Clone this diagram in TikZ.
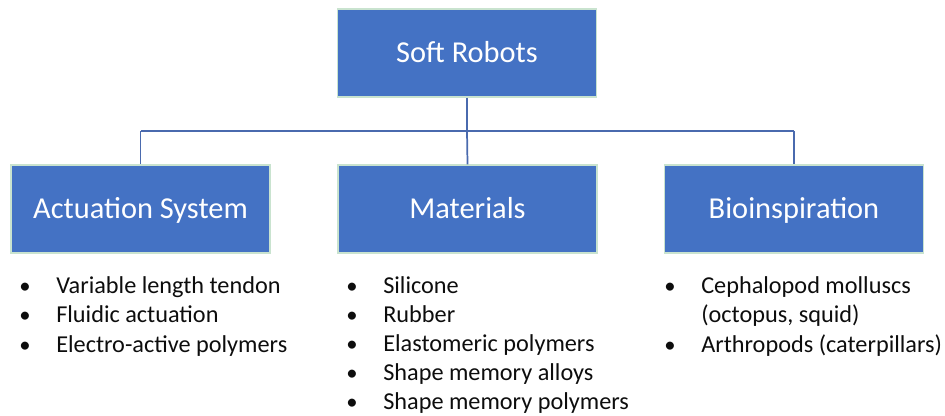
\documentclass[tikz,border=0pt]{standalone}
\usepackage{fontspec}
\setmainfont{Carlito}
\definecolor{boxblue}{HTML}{4472C4}
\definecolor{boxedge}{HTML}{C9E3CF}
\definecolor{linkblue}{HTML}{4A6AAE}
\definecolor{listtext}{HTML}{0D0D0D}
\begin{document}
\begin{tikzpicture}[x=0.75pt,y=-0.75pt,
  catbox/.style={draw=boxedge, line width=1.1pt, fill=boxblue, text=white,
    minimum width=259*0.75pt, minimum height=88*0.75pt, inner sep=0pt,
    text height=17.5pt, text depth=4pt,
    font=\fontsize{22.8}{26}\selectfont},
  link/.style={draw=linkblue, line width=1.3pt},
  itemtext/.style={anchor=base west, inner sep=0pt, text=listtext,
    font=\fontsize{18.2}{22}\selectfont},
  bulletdot/.style={anchor=base, inner sep=0pt, text=listtext,
    font=\fontsize{17}{22}\selectfont}]
  \useasboundingbox (0,0) rectangle (945,415);

  % branch connectors
  \coordinate (hub) at (467,131);
  \coordinate (hl) at (140.5,131);
  \coordinate (hr) at (794,131);

  % category boxes
  \node[catbox] (root) at (467,53) {Soft Robots};
  \node[catbox] (act) at (140.5,209) {Actuation System};
  \node[catbox] (mat) at (467.5,209) {Materials};
  \node[catbox] (bio) at (794,209) {Bioinspiration};

  \draw[link] (root.south) -- (hub);
  \draw[link] (hl) -- (hr);
  \draw[link] (hl) -- (act.north);
  \draw[link] (hub) -- (mat.north);
  \draw[link] (hr) -- (bio.north);

  % bullet lists
  \foreach \t [count=\i] in {Variable length tendon, Fluidic actuation, Electro-active polymers} {
    \node[bulletdot] (ab\i) at (25,263.5+29.5*\i) {\textbullet};
    \node[itemtext] (at\i) at (56,263.5+29.5*\i) {\t};
  }
  \foreach \t [count=\i] in {Silicone, Rubber, Elastomeric polymers, Shape memory alloys, Shape memory polymers} {
    \node[bulletdot] (mb\i) at (352,264+29*\i) {\textbullet};
    \node[itemtext] (mt\i) at (383,264+29*\i) {\t};
  }
  \node[bulletdot] (bb1) at (670,293) {\textbullet};
  \node[itemtext] (bt1) at (701,293) {Cephalopod molluscs};
  \node[itemtext] (bt2) at (701,322.5) {(octopus, squid)};
  \node[bulletdot] (bb2) at (670,352) {\textbullet};
  \node[itemtext] (bt3) at (701,352) {Arthropods (caterpillars)};
\end{tikzpicture}
\end{document}
